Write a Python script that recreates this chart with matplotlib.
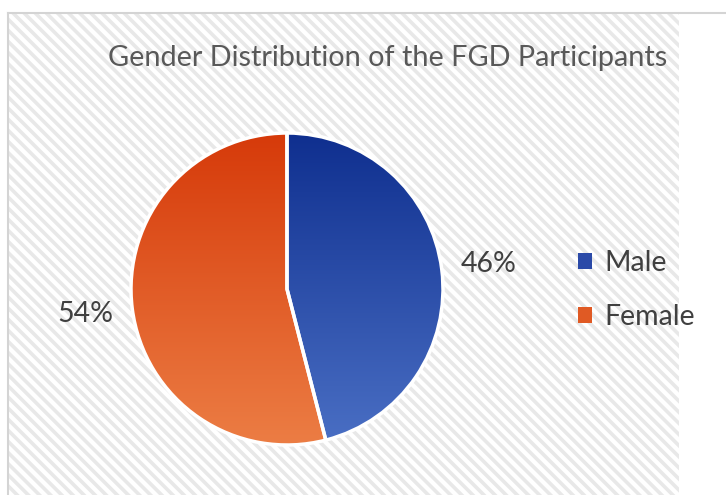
import matplotlib.pyplot as plt
import numpy as np
from matplotlib.colors import LinearSegmentedColormap
from matplotlib.patches import Rectangle, Patch
from matplotlib.lines import Line2D

labels = ['Male', 'Female']
shares = [46, 54]
top_colors = ['#0f2f8f', '#d63a0a']
bottom_colors = ['#4a6fc4', '#ec7d44']
legend_colors = ['#2b4aa8', '#e05a24']

plt.rcParams['font.family'] = ['Lato', 'DejaVu Sans']
plt.rcParams['hatch.linewidth'] = 2.6
plt.rcParams['hatch.color'] = '#e8e8e8'

W, H = 726, 495
fig = plt.figure(figsize=(W / 100, H / 100), dpi=100)
fig.patch.set_facecolor('white')

# hatched chart background
bg = fig.add_axes([0, 0, 1, 1])
bg.set_xlim(0, W)
bg.set_ylim(H, 0)
bg.axis('off')
bg.add_patch(Rectangle((8, 13), 679 - 8, H - 13, facecolor='white',
                       edgecolor='#e8e8e8', hatch='\\\\\\', linewidth=0))
bg.add_line(Line2D([8, W], [13, 13], color='#d4d4d4', linewidth=1.5))
bg.add_line(Line2D([8, 8], [13, H], color='#d4d4d4', linewidth=1.5))

bg.text(388, 58, 'Gender Distribution of the FGD Participants', ha='center', va='center',
        fontsize=20.8, color='#595959')

# pie
cx, cy, R = 287, 289, 156
ax = fig.add_axes([(cx - R) / W, 1 - (cy + R) / H, 2 * R / W, 2 * R / H])
wedges, texts, autotexts = ax.pie(shares, startangle=90, counterclock=False,
                                  autopct='%1.0f%%', pctdistance=1.3,
                                  wedgeprops=dict(edgecolor='white', linewidth=2.5, facecolor='none'),
                                  textprops=dict(fontsize=20.5, color='#404040'))
ax.set_aspect('auto')
for t in autotexts:
    t.set_clip_on(False)

grad = np.linspace(0, 1, 256).reshape(-1, 1)
for w, c0, c1 in zip(wedges, top_colors, bottom_colors):
    cmap = LinearSegmentedColormap.from_list('g', [c0, c1])
    im = ax.imshow(grad, cmap=cmap, extent=(-1, 1, -1, 1), origin='upper',
                   aspect='auto', zorder=0)
    im.set_clip_path(w)
ax.set_xlim(-1, 1)
ax.set_ylim(-1, 1)

handles = [Patch(facecolor=c, edgecolor='none') for c in legend_colors]
leg = fig.legend(handles, labels, loc='center left', bbox_to_anchor=(552 / W, 1 - 290 / H),
                 frameon=False, fontsize=20.5, labelspacing=1.0, handlelength=0.5,
                 handleheight=0.5, handletextpad=0.45, labelcolor='#404040')

fig.savefig('out.png', dpi=100)
